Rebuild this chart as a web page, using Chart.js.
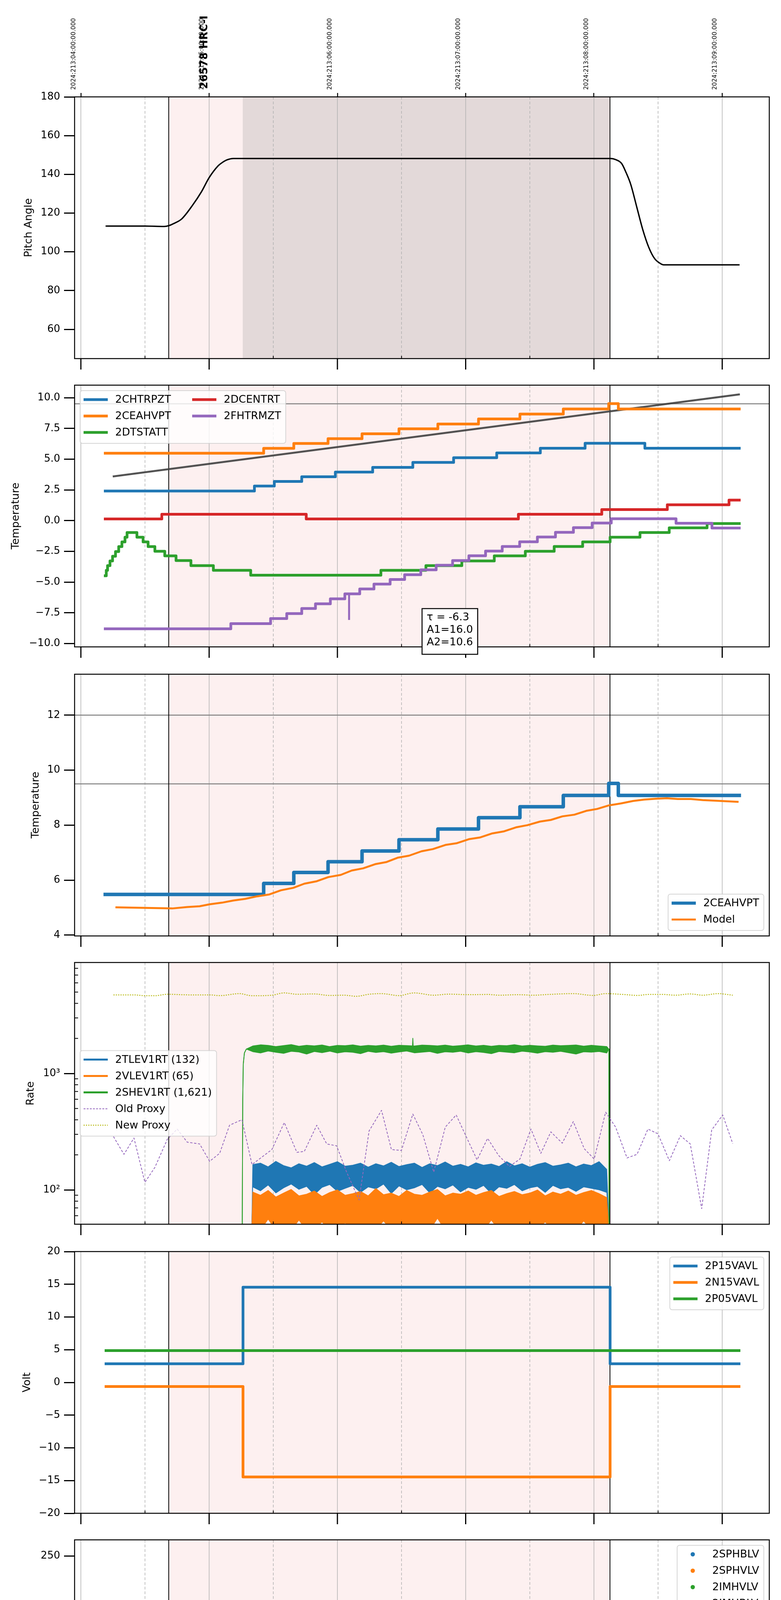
<!DOCTYPE html>
<html>
<head>
<meta charset="utf-8">
<title>26578 HRC-I</title>
<script src="https://cdn.jsdelivr.net/npm/chart.js@4.4.1/dist/chart.umd.min.js"></script>
<style>
  html, body { margin: 0; padding: 0; background: #fff; }
  body { position: relative; width: 2000px; height: 6200px; }
  canvas { position: absolute; left: 0; }
</style>
</head>
<body>
<script>
// time is in hours after 2024-07-31 00h (local)
const hourTicks = [0, 1, 2, 3, 4, 5];
const halfTicks = [0.5, 1.5, 2.5, 3.5, 4.5];
const hourLabels = ['00h', '01h', '02h', '03h', '04h', '05h'];
const halfLabel = '30';
const dayLabel = '2024-07-31 (213)';
const topTickLabels = ['2024:213:04:00:00.000', '2024:213:05:00:00.000', '2024:213:06:00:00.000',
  '2024:213:07:00:00.000', '2024:213:08:00:00.000', '2024:213:09:00:00.000'];
const obsSpan = [0.685, 4.125];
const dwellSpan = [1.262, 4.125];
const obsLabel = '26578 HRC-I';
const obsLabelAt = 0.965;
const noteLines = ['\u03c4 = -6.3', 'A1=16.0', 'A2=10.6'];
const noteAt = 2.66;

const yLabels = ['Pitch Angle', 'Temperature', 'Temperature', 'Rate', 'Volt', 'HV Monitor', 'Detector Temp', 'FEA Temp'];
const tempNames = ['2CHTRPZT', '2CEAHVPT', '2DTSTATT', '2DCENTRT', '2FHTRMZT'];
const ceahNames = ['2CEAHVPT', 'Model'];
const rateNames = ['2TLEV1RT (132)', '2VLEV1RT (65)', '2SHEV1RT (1,621)', 'Old Proxy', 'New Proxy'];
const voltNames = ['2P15VAVL', '2N15VAVL', '2P05VAVL'];
const hvNames = ['2SPHBLV', '2SPHVLV', '2IMHVLV', '2IMHBLV'];
const detNames = ['2SPINATM', '2SPHVATM', '2IMINATM', '2IMHVATM'];
const feaNames = ['2FHTRMZT', '2FRADPYT', '2FEPRATM', '2FE00ATM'];

const pitchTicks = [60, 80, 100, 120, 140, 160, 180];
const tempTicks = [-10, -7.5, -5, -2.5, 0, 2.5, 5, 7.5, 10];
const ceahTicks = [4, 6, 8, 10, 12];
const rateTicks = [100, 1000];
const rateMinorTicks = [60, 70, 80, 90, 200, 300, 400, 500, 600, 700, 800, 900, 2000, 3000, 4000, 5000, 6000, 7000, 8000];
const voltTicks = [-20, -15, -10, -5, 0, 5, 10, 15, 20];
const hvTicks = [0, 50, 100, 150, 200, 250];
const detTicks = [0, 2.5, 5, 7.5, 10, 12.5, 15, 17.5];
const feaTicks = [-8, -6, -4, -2, 0];
const tempLimits = [9.5];
const ceahLimits = [12, 9.5];

// panel 1: pitch
const pitchT = [0.198, 0.5, 0.65, 0.685, 0.72, 0.786, 0.87, 0.94, 1.0, 1.07, 1.1, 1.14, 1.19, 4.13, 4.17, 4.216, 4.25, 4.287, 4.334, 4.381, 4.427, 4.473, 4.52, 4.543, 5.13];
const pitchV = [113.3, 113.3, 113.1, 113.5, 114.5, 117, 124, 131, 138.3, 144.4, 146, 147.5, 148.2, 148.2, 147.6, 145.6, 141, 134.8, 123.1, 111.4, 102.4, 96.5, 93.9, 93.3, 93.3];

// panel 2: temperatures (step changes)
const chtrT = [0.19, 1.353, 1.508, 1.722, 1.984, 2.275, 2.588, 2.906, 3.242, 3.582, 3.931, 4.397, 5.133];
const chtrV = [2.41, 2.81, 3.19, 3.57, 3.95, 4.33, 4.74, 5.12, 5.51, 5.89, 6.29, 5.89, 5.89];
const ceahT = [0.19, 1.425, 1.66, 1.927, 2.192, 2.48, 2.783, 3.1, 3.423, 3.761, 4.115, 4.19, 5.133];
const ceahV = [5.48, 5.88, 6.28, 6.67, 7.06, 7.47, 7.86, 8.27, 8.67, 9.08, 9.52, 9.08, 9.08];
const dtsT = [0.19, 0.198, 0.208, 0.227, 0.247, 0.27, 0.295, 0.32, 0.344, 0.36, 0.437, 0.485, 0.524, 0.577, 0.654, 0.742, 0.858, 1.033, 1.324, 2.339, 2.69, 2.97, 3.223, 3.465, 3.69, 3.912, 4.126, 4.359, 4.587, 4.882, 5.133];
const dtsV = [-4.49, -4.04, -3.66, -3.28, -2.9, -2.52, -2.11, -1.73, -1.35, -0.97, -1.35, -1.73, -2.11, -2.49, -2.87, -3.25, -3.66, -4.04, -4.44, -4.04, -3.66, -3.28, -2.87, -2.49, -2.1, -1.73, -1.35, -0.97, -0.59, -0.24, -0.24];
const dcenT = [0.19, 0.631, 1.757, 3.411, 4.061, 4.572, 5.053, 5.133];
const dcenV = [0.14, 0.52, 0.14, 0.52, 0.9, 1.29, 1.67, 1.67];
const fhtrT = [0.19, 1.169, 1.479, 1.605, 1.722, 1.829, 1.945, 2.058, 2.174, 2.285, 2.411, 2.524, 2.65, 2.77, 2.898, 3.025, 3.155, 3.285, 3.421, 3.559, 3.7, 3.84, 3.986, 4.135, 4.64, 4.92, 5.133];
const fhtrV = [-8.8, -8.38, -7.97, -7.56, -7.15, -6.77, -6.36, -5.96, -5.56, -5.16, -4.79, -4.4, -4.0, -3.63, -3.25, -2.86, -2.48, -2.1, -1.72, -1.33, -0.95, -0.57, -0.2, 0.15, -0.21, -0.6, -0.6];
const fhtrSpikeT = [2.091];
const fhtrSpikeLo = [-8.0];
const fhtrSpikeHi = [-5.96];
const trendT = [0.256, 5.13];
const trendV = [3.6, 10.26];

// panel 3: 2CEAHVPT model
const modelT = [0.277, 0.713, 0.829, 0.926, 1.004, 1.1, 1.19, 1.283, 1.373, 1.47, 1.56, 1.656, 1.742, 1.839, 1.929, 2.026, 2.112, 2.201, 2.294, 2.384, 2.473, 2.559, 2.656, 2.745, 2.842, 2.928, 3.025, 3.11, 3.208, 3.295, 3.392, 3.482, 3.579, 3.664, 3.754, 3.847, 3.94, 4.025, 4.118, 4.211, 4.305, 4.39, 4.483, 4.569, 4.654, 4.755, 4.849, 4.946, 5.035, 5.12];
const modelV = [5.01, 4.97, 5.02, 5.05, 5.12, 5.18, 5.26, 5.32, 5.41, 5.48, 5.63, 5.72, 5.87, 5.96, 6.11, 6.19, 6.35, 6.43, 6.58, 6.66, 6.82, 6.89, 7.05, 7.13, 7.28, 7.34, 7.49, 7.55, 7.7, 7.77, 7.92, 8.0, 8.13, 8.19, 8.32, 8.38, 8.52, 8.59, 8.72, 8.79, 8.88, 8.93, 8.96, 8.98, 8.95, 8.95, 8.91, 8.89, 8.87, 8.85];

// panel 4: rates (noisy bands given as upper / lower edges)
const rateT = [1.34, 1.40, 1.46, 1.52, 1.58, 1.64, 1.70, 1.76, 1.82, 1.88, 1.94, 2.00, 2.06, 2.12, 2.18, 2.24, 2.30, 2.36, 2.42, 2.48, 2.54, 2.60, 2.66, 2.72, 2.78, 2.84, 2.90, 2.96, 3.02, 3.08, 3.14, 3.20, 3.26, 3.32, 3.38, 3.44, 3.50, 3.56, 3.62, 3.68, 3.74, 3.80, 3.86, 3.92, 3.98, 4.04, 4.10];
const tlevHi = [165, 170, 158, 176, 162, 155, 168, 160, 172, 158, 166, 175, 160, 163, 170, 157, 168, 161, 173, 159, 165, 170, 156, 168, 162, 174, 160, 166, 158, 171, 163, 167, 159, 175, 161, 168, 157, 166, 172, 160, 164, 170, 158, 167, 162, 175, 150];
const tlevLo = [106, 98, 110, 94, 104, 112, 101, 107, 91, 105, 111, 97, 103, 109, 95, 106, 102, 112, 93, 108, 100, 104, 111, 94, 107, 102, 110, 96, 105, 101, 109, 93, 106, 103, 111, 98, 104, 107, 95, 109, 102, 105, 97, 106, 103, 100, 95];
const vlevHi = [96, 90, 99, 87, 94, 101, 89, 92, 98, 88, 95, 100, 90, 93, 97, 89, 103, 91, 94, 88, 99, 92, 90, 96, 101, 89, 94, 92, 98, 90, 95, 99, 88, 93, 97, 91, 94, 100, 89, 96, 92, 98, 90, 95, 99, 93, 86];
const vlevLo = [48, 45, 56, 45, 47, 45, 55, 45, 46, 53, 45, 45, 52, 45, 49, 45, 46, 54, 45, 45, 51, 45, 48, 45, 57, 45, 46, 45, 52, 45, 45, 55, 45, 47, 45, 50, 45, 46, 53, 45, 45, 49, 45, 54, 45, 47, 45];
const shevHi = [1720, 1760, 1740, 1700, 1735, 1770, 1710, 1745, 1725, 1755, 1700, 1740, 1730, 1760, 1715, 1740, 1725, 1750, 1710, 1745, 1735, 1720, 1750, 1740, 1725, 1750, 1715, 1735, 1760, 1720, 1745, 1710, 1740, 1730, 1765, 1720, 1745, 1725, 1710, 1750, 1730, 1740, 1755, 1715, 1745, 1720, 1700];
const shevLo = [1540, 1500, 1560, 1520, 1490, 1550, 1530, 1470, 1545, 1510, 1555, 1500, 1535, 1520, 1480, 1550, 1515, 1540, 1495, 1530, 1560, 1505, 1525, 1545, 1490, 1535, 1520, 1550, 1500, 1540, 1515, 1480, 1545, 1525, 1505, 1555, 1530, 1495, 1540, 1520, 1550, 1510, 1470, 1535, 1525, 1545, 1500];
const levOnT = [1.332];
const levOffT = [4.118];
const levFloorV = [45];
const shevOnT = [1.258, 1.262, 1.266, 1.275, 1.29];
const shevOnV = [45, 600, 1200, 1500, 1620];
const shevOffT = [4.116, 4.118];
const shevOffV = [1620, 45];
const shevSpikeT = [2.585, 2.588, 2.591];
const shevSpikeV = [1700, 2005, 1700];
const oldProxyT = [0.254, 0.336, 0.414, 0.499, 0.577, 0.674, 0.751, 0.829, 0.926, 1.004, 1.082, 1.159, 1.256, 1.334, 1.489, 1.586, 1.684, 1.742, 1.839, 1.917, 1.994, 2.072, 2.169, 2.247, 2.344, 2.421, 2.499, 2.588, 2.666, 2.751, 2.841, 2.926, 3.004, 3.089, 3.171, 3.256, 3.341, 3.423, 3.509, 3.586, 3.664, 3.753, 3.839, 3.924, 4.002, 4.091, 4.169, 4.258, 4.336, 4.421, 4.499, 4.588, 4.674, 4.751, 4.84, 4.918, 5.004, 5.082];
const oldProxyV = [287, 202, 279, 116, 156, 272, 333, 257, 248, 176, 206, 359, 401, 165, 222, 379, 210, 214, 359, 248, 239, 142, 82, 321, 482, 222, 218, 448, 298, 142, 346, 440, 287, 181, 277, 198, 159, 184, 333, 206, 315, 252, 386, 226, 184, 465, 346, 188, 202, 333, 303, 178, 292, 248, 69, 327, 440, 250];
const newProxyT = [0.254, 0.421, 0.499, 0.577, 0.674, 0.849, 1.004, 1.082, 1.237, 1.334, 1.489, 1.586, 1.684, 1.82, 1.936, 2.052, 2.149, 2.247, 2.344, 2.48, 2.596, 2.751, 2.868, 3.023, 3.179, 3.256, 3.411, 3.528, 3.644, 3.839, 3.994, 4.091, 4.227, 4.344, 4.421, 4.538, 4.635, 4.751, 4.849, 4.965, 5.082];
const newProxyV = [4730, 4730, 4650, 4650, 4790, 4730, 4730, 4660, 4850, 4650, 4700, 4920, 4790, 4820, 4680, 4700, 4600, 4790, 4850, 4660, 4920, 4700, 4800, 4750, 4770, 4700, 4750, 4700, 4770, 4850, 4680, 4850, 4770, 4680, 4770, 4770, 4700, 4820, 4700, 4850, 4700];

// panel 5: voltages
const p15T = [0.196, 1.264, 4.126, 5.131];
const p15V = [2.85, 14.55, 2.85, 2.85];
const n15T = [0.196, 1.264, 4.126, 5.131];
const n15V = [-0.62, -14.45, -0.62, -0.62];
const p05T = [0.196, 5.131];
const p05V = [4.86, 4.86];

// panel 6: HV monitors (steady levels plus individual samples)
const imhbLevelT = [1.334, 4.118];
const imhbLevelV = [86.1, 86.1];
const imhvLevelT = [1.334, 4.118];
const imhvLevelV = [79, 79];
const imhbDotT = [1.2835, 1.2835, 1.2835, 1.287, 1.291, 1.291, 1.303, 1.314, 1.322, 1.326, 1.334, 2.58, 2.674, 2.693, 2.736, 3.249, 3.268, 3.318, 3.341, 3.373];
const imhbDotV = [126.6, 125, 120, 110.8, 106.5, 104.7, 101.7, 97.6, 94, 91.5, 88.5, 79, 79, 79, 79, 79, 79, 79, 79, 80.5];
const imhvDotT = [1.28, 1.2835, 1.291, 1.303, 1.314, 1.326, 2.576, 2.701, 2.736, 3.241, 3.268, 3.318, 3.345, 3.373];
const imhvDotV = [102, 98.7, 94.6, 90, 86.5, 82.5, 127, 127, 127, 127, 127, 127, 127, 127];

// panel 7: detector temperatures
const spinaT = [1.26, 3.14, 3.897, 4.118];
const spinaV = [2.2, 2.66, 3.18, 3.18];
const spinaSpikeT = [2.576, 2.635, 2.701, 2.751, 2.779, 2.829, 3.241, 3.268, 3.318, 3.373];
const spinaSpikeLo = [-5, -5, -5, -5, -5, -5, -5, -5, -5, -5];
const spinaSpikeHi = [2.2, 2.2, 2.2, 2.2, 2.2, 2.2, 2.66, 2.66, 2.66, 2.66];
const sphvaT = [1.258, 1.262, 1.811, 2.162, 2.46, 2.733, 3.024, 3.295, 3.586, 3.877, 4.118];
const sphvaV = [13.1, 13.62, 13.98, 14.32, 14.66, 14.98, 15.33, 15.68, 16.04, 16.39, 16.39];
const sphvaSpikeT = [1.41, 1.896, 2.569, 2.604, 2.635, 2.666, 2.682, 2.705, 2.736, 2.767, 2.79, 2.837, 3.237, 3.268, 3.295, 3.318, 3.345, 3.373];
const sphvaSpikeLo = [13.62, 13.55, 8.94, 8.94, 8.94, 8.94, -5, 8.94, 8.94, 8.94, 8.94, 8.94, 9.65, 9.65, 9.65, 9.65, 9.65, 9.65];
const sphvaSpikeHi = [14.06, 13.98, 14.66, 14.66, 14.66, 14.66, 14.66, 14.66, 14.98, 14.98, 14.98, 14.98, 15.33, 15.33, 15.68, 15.68, 15.68, 15.68];
const iminaT = [1.26, 2.374, 3.536, 4.118];
const iminaV = [-0.06, 0.37, 0.84, 0.84];
const iminaSpikeT = [2.576, 2.615, 2.63, 2.645, 2.66, 2.675, 2.69, 2.705, 2.72, 2.735, 2.75, 2.765, 2.779, 2.829, 3.241, 3.268, 3.285, 3.318, 3.345, 3.373];
const iminaSpikeLo = [0.37, 0.37, 0.37, 0.37, 0.37, 0.37, 0.37, 0.37, 0.37, 0.37, 0.37, 0.37, 0.37, 0.37, 0.37, 0.37, 0.37, 0.37, 0.37, 0.37];
const iminaSpikeHi = [2.29, 2.29, 2.29, 2.29, 2.29, 2.29, 2.29, 2.29, 2.29, 2.29, 2.29, 2.29, 2.29, 2.29, 2.76, 2.76, 2.76, 2.76, 2.76, 2.76];
const imhvaT = [1.258, 1.26, 1.4, 1.516, 1.633, 1.75, 1.87, 2.006, 2.15, 2.305, 2.487, 2.674, 2.895, 3.128, 3.373, 3.625, 3.897, 4.128, 4.131];
const imhvaV = [-5, 12.89, 13.31, 13.67, 13.96, 14.31, 14.66, 14.98, 15.33, 15.68, 16.07, 16.35, 16.69, 17.05, 17.41, 17.78, 18.14, 40, -20];
const imhvaSpikeT = [2.565, 2.58, 2.595, 2.61, 2.625, 2.64, 2.655, 2.67, 2.682, 2.69, 2.705, 2.72, 2.735, 2.75, 2.765, 2.779, 2.829, 3.237, 3.268, 3.318, 3.373];
const imhvaSpikeLo = [14.56, 14.56, 14.56, 14.56, 14.56, 14.56, 14.56, 14.56, -5, 14.56, 14.56, 14.56, 14.56, 14.56, 14.56, 14.56, 14.56, 15.2, 15.2, 15.2, 15.2];
const imhvaSpikeHi = [16.07, 16.07, 16.07, 16.07, 16.07, 16.07, 16.07, 16.07, 16.35, 16.35, 16.35, 16.35, 16.35, 16.35, 16.35, 16.35, 16.35, 17.05, 17.05, 17.05, 17.41];

// panel 8: FEA temperatures (2FHTRMZT shared with panel 2)
const fradT = [1.49, 1.528, 1.645, 1.761, 1.878, 2.002, 2.118, 2.239, 2.359, 2.488, 2.609, 2.745, 2.88, 3.016, 3.153, 3.29, 3.437, 3.584, 3.73, 3.885, 4.04, 4.394, 4.538, 4.685, 4.849, 5.023, 5.131];
const fradV = [-10, -9.25, -8.85, -8.45, -8.05, -7.63, -7.22, -6.82, -6.37, -5.98, -5.6, -5.2, -4.8, -4.41, -4.03, -3.64, -3.24, -2.85, -2.47, -2.1, -1.74, -2.12, -2.5, -2.88, -3.27, -3.65, -3.65];
const fepraT = [1.25, 1.26, 1.3, 1.341, 1.384, 1.431, 1.489, 1.559, 1.645, 1.742, 1.847, 1.956, 2.064, 2.177, 2.305, 2.432, 2.56, 2.79, 2.853, 2.971, 3.122, 3.28, 3.42, 3.579, 3.745, 3.909];
const fepraV = [-10, -8.95, -8.53, -8.11, -7.67, -7.26, -6.84, -6.42, -6.02, -5.61, -5.21, -4.79, -4.37, -3.97, -3.54, -3.09, -2.67, -2.26, -1.84, -1.4, -0.95, -0.51, -0.08, 0.36, 0.8, 1.2];
const fepraSpikeT = [2.575, 2.624, 2.645, 2.661, 2.7, 2.722, 2.743, 2.777, 2.819, 3.236, 3.267, 3.285, 3.315, 3.346, 3.376];
const fepraSpikeLo = [-6.05, -6.05, -6.05, -6.05, -6.05, -6.05, -6.05, -6.05, -6.05, -6.05, -6.05, -6.05, -6.05, -6.05, -6.05];
const fepraSpikeHi = [-2.67, -2.67, -2.67, -2.67, -2.67, -2.67, -2.67, -2.67, -2.26, -0.95, -0.95, -0.51, -0.51, -0.51, -0.51];
const fe00T = [1.39, 1.403, 1.495, 1.579, 1.664, 1.75, 1.839, 1.929, 2.014, 2.103, 2.177, 2.266, 2.371, 2.463, 2.56, 2.7, 2.78, 2.868, 2.965, 3.072, 3.178, 3.29, 3.397, 3.508, 3.614, 3.72, 3.84, 3.96, 4.079, 4.128, 4.131];
const fe00V = [-10, -9.39, -8.91, -8.55, -8.15, -7.79, -7.44, -7.1, -6.76, -6.38, -6.03, -5.68, -5.37, -5.01, -4.65, -4.37, -3.97, -3.63, -3.3, -2.96, -2.62, -2.28, -1.95, -1.63, -1.3, -0.95, -0.63, -0.27, 0.05, 30, -30];
const fe00SpikeT = [1.493, 2.13, 2.566, 2.582, 2.598, 2.614, 2.63, 2.646, 2.662, 2.678, 2.682, 2.694, 2.71, 2.726, 2.742, 2.758, 2.772, 2.812, 2.822, 2.828, 2.848, 2.934, 3.226, 3.238, 3.25, 3.262, 3.274, 3.286, 3.315, 3.342, 3.376, 4.098];
const fe00SpikeLo = [-12, -8.23, -4.65, -4.65, -4.65, -4.65, -4.65, -4.65, -4.65, -4.65, -12, -4.65, -4.37, -4.37, -4.37, -4.37, -4.37, -3.97, -3.97, -4.7, -3.97, -3.99, -2.62, -2.62, -2.62, -2.62, -2.62, -2.62, -2.28, -2.28, -2.28, -0.65];
const fe00SpikeHi = [-9.0, -6.38, 3, 3, 3, 3, 3, 3, 3, 3, 3, 3, 3, 3, 3, 3, 3, 3, 3, -3.97, 3, -3.63, 3, 3, 3, 3, 3, 3, 3, 3, 3, 0.05];

// ---------- drawing ----------
const FONT = 'DejaVu Sans';
Chart.defaults.font.family = FONT;
Chart.defaults.color = '#000';
const C = { blue: '#1f77b4', orange: '#ff7f0e', green: '#2ca02c', red: '#d62728', purple: '#9467bd', olive: '#bcbd22' };
const PAGE_W = 2000, PAGE_H = 6200;
const X_MIN = -0.049, X_MAX = 5.367;
const AREA_TOP = [248, 986, 1726, 2464, 3204, 3942, 4682, 5420];
const AREA_H = 670;

const xy = (t, v) => t.map((x, i) => ({ x, y: v[i] }));
const spikes = (t, lo, hi) => t.flatMap((x, i) => [{ x, y: lo[i] }, { x, y: hi[i] }, { x, y: null }]);
const pts = (t, v) => xy(t, v);

function line(data, color, width, extra) {
  return Object.assign({
    data, borderColor: color, backgroundColor: color, borderWidth: width,
    pointRadius: 0, pointHoverRadius: 0, fill: false, tension: 0, spanGaps: false,
    borderCapStyle: 'square', borderJoinStyle: 'round'
  }, extra || {});
}
const step = (data, color, width, extra) => line(data, color, width, Object.assign({ stepped: true }, extra || {}));
const dots = (data, color) => line(data, color, 0, { showLine: false, pointRadius: 5.5, pointBorderWidth: 0, pointBackgroundColor: color });
// first plotted lies underneath, as in the original
const stack = list => list.map((d, k) => Object.assign(d, { order: -k }));

const signed = (v, d) => (v < 0 ? '\u2212' : '') + Math.abs(v).toFixed(d);
const fmt0 = v => signed(v, 0);
const fmt1 = v => signed(v, 1);
const fmtLog = v => (v === 100 ? '10\u00b2' : v === 1000 ? '10\u00b3' : '');

const legendItems = (names, styles) => names.map((label, k) => Object.assign({ label }, styles[k]));

function drawLegend(ctx, a, L) {
  const items = L.items, ncol = L.ncol || 1;
  const nrow = Math.ceil(items.length / ncol);
  const handle = 62, gap = 19, colGap = 54, m = 14;
  ctx.font = '27px "' + FONT + '"';
  const colW = [];
  for (let c = 0; c < ncol; c++) {
    let w = 0;
    for (let r = 0; r < nrow; r++) {
      const it = items[c * nrow + r];
      if (it) w = Math.max(w, ctx.measureText(it.label).width);
    }
    colW.push(w);
  }
  let width = 9 + 12;
  colW.forEach((w, c) => { width += handle + gap + w + (c ? colGap : 0); });
  const height = 51 + 42 * (nrow - 1);
  const bx = L.loc[1] === 'l' ? a.left + m : a.right - m - width;
  const by = L.loc[0] === 'u' ? a.top + m : L.loc[0] === 'l' ? a.bottom - m - height : (a.top + a.bottom) / 2 - height / 2;
  ctx.beginPath();
  ctx.roundRect(bx, by, width, height, 6);
  ctx.fillStyle = 'rgba(255,255,255,0.8)';
  ctx.fill();
  ctx.strokeStyle = 'rgba(204,204,204,0.8)';
  ctx.lineWidth = 2;
  ctx.stroke();
  let cx = bx + 9;
  for (let c = 0; c < ncol; c++) {
    for (let r = 0; r < nrow; r++) {
      const it = items[c * nrow + r];
      if (!it) continue;
      const y = by + 23 + 42 * r;
      if (it.dot) {
        ctx.beginPath();
        ctx.arc(cx + handle / 2, y, 5.5, 0, Math.PI * 2);
        ctx.fillStyle = it.color;
        ctx.fill();
      } else {
        ctx.beginPath();
        ctx.setLineDash(it.dash || []);
        ctx.lineCap = 'butt';
        ctx.strokeStyle = it.color;
        ctx.lineWidth = it.width;
        ctx.moveTo(cx, y);
        ctx.lineTo(cx + handle, y);
        ctx.stroke();
        ctx.setLineDash([]);
      }
      ctx.fillStyle = '#000';
      ctx.textAlign = 'left';
      ctx.textBaseline = 'middle';
      ctx.fillText(it.label, cx + handle + gap, y + 1);
    }
    cx += handle + gap + colW[c] + colGap;
  }
}

function makeDeco(cfg) {
  return {
    id: 'deco',
    beforeDatasetsDraw(chart) {
      const { ctx, chartArea: a } = chart;
      const xs = chart.scales.x, ys = chart.scales.y;
      const px = v => xs.getPixelForValue(v);
      const vline = h => {
        const p = px(h);
        ctx.beginPath(); ctx.moveTo(p, a.top); ctx.lineTo(p, a.bottom); ctx.stroke();
      };
      ctx.save();
      ctx.beginPath();
      ctx.rect(a.left, a.top, a.right - a.left, a.bottom - a.top);
      ctx.clip();
      ctx.fillStyle = '#fdf0f0';
      ctx.fillRect(px(obsSpan[0]), a.top, px(obsSpan[1]) - px(obsSpan[0]), a.bottom - a.top);
      if (cfg.dwell) {
        ctx.fillStyle = '#e3d9d9';
        ctx.fillRect(px(dwellSpan[0]), a.top, px(dwellSpan[1]) - px(dwellSpan[0]), a.bottom - a.top);
      }
      ctx.strokeStyle = '#b0b0b0';
      ctx.lineWidth = 1.5;
      hourTicks.forEach(vline);
      ctx.setLineDash([7, 5]);
      halfTicks.forEach(vline);
      ctx.setLineDash([]);
      ctx.strokeStyle = '#808080';
      ctx.lineWidth = 2.5;
      (cfg.hlines || []).forEach(v => {
        const p = ys.getPixelForValue(v);
        ctx.beginPath(); ctx.moveTo(a.left, p); ctx.lineTo(a.right, p); ctx.stroke();
      });
      ctx.strokeStyle = '#000';
      ctx.lineWidth = 2;
      obsSpan.forEach(vline);
      ctx.restore();
    },
    afterDatasetsDraw(chart) {
      const { ctx, chartArea: a } = chart;
      const xs = chart.scales.x, ys = chart.scales.y;
      ctx.save();
      ctx.strokeStyle = '#000';
      ctx.lineWidth = 2.5;
      ctx.strokeRect(a.left, a.top, a.right - a.left, a.bottom - a.top);
      ctx.lineWidth = 3;
      hourTicks.forEach(h => {
        const p = xs.getPixelForValue(h);
        ctx.beginPath(); ctx.moveTo(p, a.bottom); ctx.lineTo(p, a.bottom + 28); ctx.stroke();
      });
      ctx.lineWidth = 2;
      halfTicks.forEach(h => {
        const p = xs.getPixelForValue(h);
        ctx.beginPath(); ctx.moveTo(p, a.bottom); ctx.lineTo(p, a.bottom - 7); ctx.stroke();
      });
      (cfg.minorY || []).forEach(v => {
        const p = ys.getPixelForValue(v);
        ctx.beginPath(); ctx.moveTo(a.left, p); ctx.lineTo(a.left + 9, p); ctx.stroke();
      });
      if (cfg.legend) drawLegend(ctx, a, cfg.legend);
      if (cfg.note) {
        ctx.font = '27px "' + FONT + '"';
        const w = Math.max(...noteLines.map(s => ctx.measureText(s).width)) + 24;
        const left = xs.getPixelForValue(noteAt), top = a.bottom - 98;
        ctx.fillStyle = '#fff';
        ctx.fillRect(left, top, w, 117);
        ctx.strokeStyle = '#000';
        ctx.lineWidth = 2.5;
        ctx.strokeRect(left, top, w, 117);
        ctx.fillStyle = '#000';
        ctx.textAlign = 'left';
        ctx.textBaseline = 'middle';
        noteLines.forEach((s, k) => ctx.fillText(s, left + 12, top + 23 + 32 * k));
      }
      if (cfg.obsLabel) {
        ctx.translate(xs.getPixelForValue(obsLabelAt), a.top - 20);
        ctx.rotate(-Math.PI / 2);
        ctx.font = 'bold 27px "' + FONT + '"';
        ctx.fillStyle = '#000';
        ctx.textAlign = 'left';
        ctx.textBaseline = 'middle';
        ctx.fillText(obsLabel, 0, 0);
      }
      ctx.restore();
    }
  };
}

const panels = [
  {
    yMin: 44.9, yMax: 180, yTicks: pitchTicks, fmt: fmt0, titlePad: 58,
    datasets: stack([line(pts(pitchT, pitchV), '#000', 3.5, { cubicInterpolationMode: 'monotone' })]),
    deco: { dwell: true, obsLabel: true }
  },
  {
    yMin: -10.27, yMax: 11.02, yTicks: tempTicks, fmt: fmt1, titlePad: 25,
    datasets: stack([
      line(pts(trendT, trendV), 'rgba(64,64,64,0.9)', 5),
      step(pts(chtrT, chtrV), C.blue, 7),
      step(pts(ceahT, ceahV), C.orange, 7),
      step(pts(dtsT, dtsV), C.green, 7),
      step(pts(dcenT, dcenV), C.red, 7),
      step(pts(fhtrT, fhtrV), C.purple, 7),
      line(spikes(fhtrSpikeT, fhtrSpikeLo, fhtrSpikeHi), C.purple, 5)
    ]),
    deco: {
      hlines: tempLimits, note: true,
      legend: { loc: 'ul', ncol: 2, items: legendItems(tempNames, [
        { color: C.blue, width: 7 }, { color: C.orange, width: 7 }, { color: C.green, width: 7 },
        { color: C.red, width: 7 }, { color: C.purple, width: 7 }]) }
    }
  },
  {
    yMin: 3.97, yMax: 13.49, yTicks: ceahTicks, fmt: fmt0, titlePad: 76,
    datasets: stack([
      step(pts(ceahT, ceahV), C.blue, 9),
      line(pts(modelT, modelV), C.orange, 5)
    ]),
    deco: {
      hlines: ceahLimits,
      legend: { loc: 'lr', items: legendItems(ceahNames, [{ color: C.blue, width: 8 }, { color: C.orange, width: 5 }]) }
    }
  },
  {
    log: true, yMin: 50.7, yMax: 8975, yTicks: rateTicks, fmt: fmtLog, titlePad: 63,
    datasets: stack([
      line([...pts(levOnT, levFloorV), ...pts(rateT, tlevHi), ...pts(levOffT, levFloorV)], C.blue, 1.5, { fill: '+1' }),
      line([...pts(levOnT, levFloorV), ...pts(rateT, tlevLo), ...pts(levOffT, levFloorV)], C.blue, 1.5),
      line([...pts(levOnT, levFloorV), ...pts(rateT, vlevHi), ...pts(levOffT, levFloorV)], C.orange, 1.5, { fill: '+1' }),
      line([...pts(levOnT, levFloorV), ...pts(rateT, vlevLo), ...pts(levOffT, levFloorV)], C.orange, 1.5),
      line([...pts(shevOnT, shevOnV), ...pts(rateT, shevHi), ...pts(shevOffT, shevOffV)], C.green, 2, { fill: '+1' }),
      line([...pts(shevOnT, shevOnV), ...pts(rateT, shevLo), ...pts(shevOffT, shevOffV)], C.green, 2),
      line(pts(shevSpikeT, shevSpikeV), C.green, 2),
      line(pts(oldProxyT, oldProxyV), C.purple, 2, { borderDash: [6, 4], borderCapStyle: 'butt' }),
      line(pts(newProxyT, newProxyV), C.olive, 2.5, { borderDash: [3, 3], borderCapStyle: 'butt', cubicInterpolationMode: 'monotone' })
    ]),
    deco: {
      minorY: rateMinorTicks,
      legend: { loc: 'cl', items: legendItems(rateNames, [
        { color: C.blue, width: 5 }, { color: C.orange, width: 5 }, { color: C.green, width: 5 },
        { color: C.purple, width: 2, dash: [5, 3] }, { color: C.olive, width: 2.5, dash: [3, 3] }]) }
    }
  },
  {
    yMin: -20, yMax: 20, yTicks: voltTicks, fmt: fmt0, titlePad: 54,
    datasets: stack([
      step(pts(p15T, p15V), C.blue, 7),
      step(pts(n15T, n15V), C.orange, 7),
      step(pts(p05T, p05V), C.green, 7)
    ]),
    deco: {
      legend: { loc: 'ur', items: legendItems(voltNames, [{ color: C.blue, width: 7 }, { color: C.orange, width: 7 }, { color: C.green, width: 7 }]) }
    }
  },
  {
    yMin: 0, yMax: 266.3, yTicks: hvTicks, fmt: fmt0, titlePad: 60,
    datasets: stack([
      dots([], C.blue),
      dots([], C.orange),
      line(pts(imhvLevelT, imhvLevelV), C.green, 12, { borderCapStyle: 'round' }),
      dots(pts(imhvDotT, imhvDotV), C.green),
      line(pts(imhbLevelT, imhbLevelV), C.red, 12, { borderCapStyle: 'round' }),
      dots(pts(imhbDotT, imhbDotV), C.red)
    ]),
    deco: {
      legend: { loc: 'ur', items: legendItems(hvNames, [
        { color: C.blue, dot: true }, { color: C.orange, dot: true }, { color: C.green, dot: true }, { color: C.red, dot: true }]) }
    }
  },
  {
    yMin: -1.59, yMax: 18.87, yTicks: detTicks, fmt: fmt1, titlePad: 49,
    datasets: stack([
      step(pts(spinaT, spinaV), C.blue, 7),
      line(spikes(spinaSpikeT, spinaSpikeLo, spinaSpikeHi), C.blue, 5),
      step(pts(sphvaT, sphvaV), C.orange, 7),
      line(spikes(sphvaSpikeT, sphvaSpikeLo, sphvaSpikeHi), C.orange, 5),
      step(pts(iminaT, iminaV), C.green, 7),
      line(spikes(iminaSpikeT, iminaSpikeLo, iminaSpikeHi), C.green, 5),
      step(pts(imhvaT, imhvaV), C.red, 7),
      line(spikes(imhvaSpikeT, imhvaSpikeLo, imhvaSpikeHi), C.red, 5)
    ]),
    deco: {
      legend: { loc: 'ur', items: legendItems(detNames, [
        { color: C.blue, width: 7 }, { color: C.orange, width: 7 }, { color: C.green, width: 7 }, { color: C.red, width: 7 }]) }
    }
  },
  {
    yMin: -9.49, yMax: 0.97, yTicks: feaTicks, fmt: fmt0, titlePad: 71,
    datasets: stack([
      step(pts(fhtrT, fhtrV), C.blue, 7),
      line(spikes(fhtrSpikeT, fhtrSpikeLo, fhtrSpikeHi), C.blue, 5),
      step(pts(fradT, fradV), C.orange, 7),
      step(pts(fepraT, fepraV), C.green, 7),
      line(spikes(fepraSpikeT, fepraSpikeLo, fepraSpikeHi), C.green, 5),
      step(pts(fe00T, fe00V), C.red, 7),
      line(spikes(fe00SpikeT, fe00SpikeLo, fe00SpikeHi), C.red, 5)
    ]),
    deco: {
      legend: { loc: 'lr', items: legendItems(feaNames, [
        { color: C.blue, width: 7 }, { color: C.orange, width: 7 }, { color: C.green, width: 7 }, { color: C.red, width: 7 }]) }
    }
  }
];

const bottomTicks = [0, 0.5, 1, 1.5, 2, 2.5, 3, 3.5, 4, 4.5, 5];

panels.forEach((p, i) => {
  const isFirst = i === 0, isLast = i === panels.length - 1;
  const areaTop = AREA_TOP[i], areaBottom = areaTop + AREA_H;
  const canvasTop = isFirst ? 0 : areaTop - 40;
  const bottomSpace = isLast ? PAGE_H - areaBottom : 45;
  const h = areaBottom + bottomSpace - canvasTop;
  const cv = document.createElement('canvas');
  cv.width = PAGE_W;
  cv.height = h;
  cv.style.top = canvasTop + 'px';
  document.body.appendChild(cv);

  const scales = {
    x: {
      type: 'linear', position: 'bottom', min: X_MIN, max: X_MAX,
      afterFit: s => { s.height = bottomSpace; },
      afterBuildTicks: s => { s.ticks = (isLast ? bottomTicks : hourTicks).map(value => ({ value })); },
      grid: { display: false, drawTicks: false, tickLength: 0 },
      border: { display: false },
      ticks: {
        display: isLast, autoSkip: false, maxRotation: 0, minRotation: 0, padding: 4, color: '#000',
        font: c => (c.tick && Number.isInteger(c.tick.value)) ? { family: FONT, size: 27, lineHeight: 1.1 } : { family: FONT, size: 16 },
        callback: v => Number.isInteger(v) ? ['', hourLabels[v]] : halfLabel
      },
      title: { display: isLast, text: dayLabel, color: '#000', font: { family: FONT, size: 33 }, padding: { top: 0, bottom: 2 } }
    },
    y: {
      type: p.log ? 'logarithmic' : 'linear', position: 'left', min: p.yMin, max: p.yMax,
      afterFit: s => { s.width = 191; },
      afterBuildTicks: s => { s.ticks = p.yTicks.map(value => ({ value })); },
      grid: { display: true, drawOnChartArea: false, drawTicks: true, tickLength: 27, tickWidth: 3, tickColor: '#000' },
      border: { display: false },
      ticks: { color: '#000', padding: 10, font: { family: FONT, size: 26 }, callback: v => p.fmt(v) },
      title: { display: true, text: yLabels[i], color: '#000', font: { family: FONT, size: 27 }, padding: { top: p.titlePad, bottom: 0 } }
    }
  };
  if (isFirst) {
    scales.x2 = {
      type: 'linear', position: 'top', min: X_MIN, max: X_MAX,
      afterFit: s => { s.height = AREA_TOP[0]; },
      afterBuildTicks: s => { s.ticks = hourTicks.map(value => ({ value })); },
      grid: { display: true, drawOnChartArea: false, drawTicks: true, tickLength: 10, tickWidth: 2.5, tickColor: '#000' },
      border: { display: false },
      ticks: {
        autoSkip: false, minRotation: 90, maxRotation: 90, padding: 8, color: '#000',
        font: { family: FONT, size: 15.5 },
        callback: (v, k) => topTickLabels[k]
      }
    };
  }

  new Chart(cv, {
    type: 'line',
    data: { datasets: p.datasets },
    options: {
      responsive: false, animation: false, devicePixelRatio: 1,
      layout: { padding: { top: isFirst ? 0 : 40, right: 30, left: 0, bottom: 0 } },
      events: [],
      plugins: { legend: { display: false }, tooltip: { enabled: false } },
      scales
    },
    plugins: [makeDeco(p.deco || {})]
  });
});
</script>
</body>
</html>
